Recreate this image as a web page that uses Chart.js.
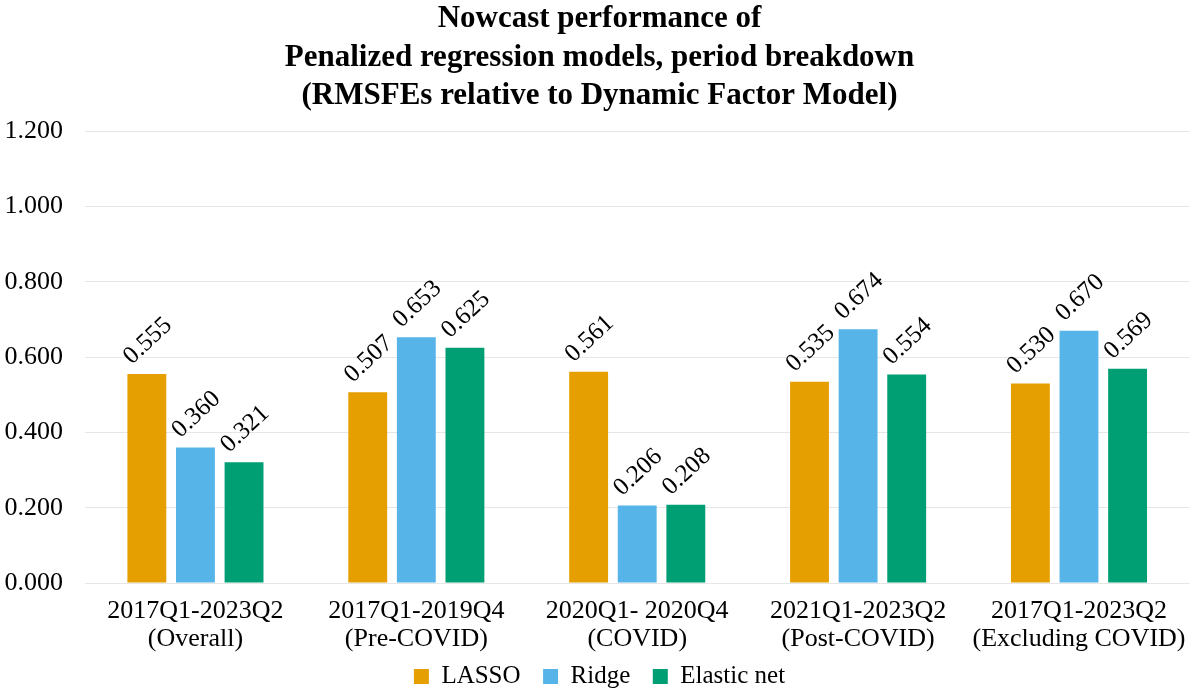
<!DOCTYPE html>
<html>
<head>
<meta charset="utf-8">
<script src="https://cdn.jsdelivr.net/npm/chart.js@4"></script>
<style>
  html, body { margin: 0; padding: 0; background: #fff; }
  #wrap { width: 1200px; height: 698px; }
</style>
</head>
<body>
<div id="wrap"><canvas id="nowcast-chart"></canvas></div>
<script>
const periods = [
  ["2017Q1-2023Q2", "(Overall)"],
  ["2017Q1-2019Q4", "(Pre-COVID)"],
  ["2020Q1- 2020Q4", "(COVID)"],
  ["2021Q1-2023Q2", "(Post-COVID)"],
  ["2017Q1-2023Q2", "(Excluding COVID)"]
];
const lasso = [0.555, 0.507, 0.561, 0.535, 0.530];
const ridge = [0.360, 0.653, 0.206, 0.674, 0.670];
const elasticNet = [0.321, 0.625, 0.208, 0.554, 0.569];
const yTicks = [0, 0.2, 0.4, 0.6, 0.8, 1.0, 1.2];

const serif = "'Liberation Serif', 'Times New Roman', serif";

// draw the rotated value labels above each bar
const valueLabels = {
  id: 'valueLabels',
  afterDatasetsDraw(chart) {
    const ctx = chart.ctx;
    ctx.save();
    ctx.font = "25px " + serif;
    ctx.fillStyle = "#000";
    ctx.textAlign = "center";
    ctx.textBaseline = "middle";
    chart.data.datasets.forEach((ds, i) => {
      chart.getDatasetMeta(i).data.forEach((bar, j) => {
        ctx.save();
        ctx.translate(bar.x + 1, bar.y - 33);
        ctx.rotate(-43 * Math.PI / 180);
        ctx.fillText(ds.data[j].toFixed(3), 0, 0);
        ctx.restore();
      });
    });
    ctx.restore();
  }
};

new Chart(document.getElementById("nowcast-chart"), {
  type: 'bar',
  data: {
    labels: periods,
    datasets: [{
        label: "LASSO",
        backgroundColor: "#E69F00",
        data: lasso
      }, {
        label: "Ridge",
        backgroundColor: "#56B4E9",
        data: ridge
      }, {
        label: "Elastic net",
        backgroundColor: "#009E73",
        data: elasticNet
      }
    ]
  },
  options: {
    responsive: true,
    maintainAspectRatio: false,
    animation: false,
    categoryPercentage: 0.66,
    barPercentage: 0.8,
    layout: { padding: { left: 4, right: 5, top: 0, bottom: -1 } },
    plugins: {
      title: {
        display: true,
        text: ["Nowcast performance of", "Penalized regression models, period breakdown", "(RMSFEs relative to Dynamic Factor Model)"],
        color: "#000",
        font: { family: serif, size: 31, weight: 'bold', lineHeight: 1.24 },
        padding: { top: 0, bottom: 16 }
      },
      legend: {
        position: 'bottom',
        labels: {
          color: "#000",
          font: { family: serif, size: 25 },
          boxWidth: 15,
          boxHeight: 15,
          padding: 10,
          // a little extra room after each item except the last
          generateLabels(chart) {
            const items = Chart.defaults.plugins.legend.labels.generateLabels(chart);
            items.forEach((it, i) => { if (i < items.length - 1) it.text += '\u2002'; });
            return items;
          }
        }
      },
      tooltip: { enabled: false }
    },
    scales: {
      x: {
        afterFit(axis) { axis.height = 71; },
        grid: { display: false, drawTicks: false },
        border: { display: false },
        ticks: {
          color: "#000",
          font: { family: serif, size: 26, lineHeight: 1.08 },
          maxRotation: 0,
          autoSkip: false,
          padding: 14
        }
      },
      y: {
        min: 0,
        max: 1.2,
        afterBuildTicks(axis) { axis.ticks = yTicks.map(v => ({ value: v })); },
        afterFit(axis) { axis.width = 81; },
        grid: { color: "#e6e6e6", drawTicks: false },
        border: { display: false },
        ticks: {
          color: "#000",
          font: { family: serif, size: 26 },
          padding: 22,
          callback: v => Number(v).toFixed(3)
        }
      }
    }
  },
  plugins: [valueLabels]
});
</script>
</body>
</html>
